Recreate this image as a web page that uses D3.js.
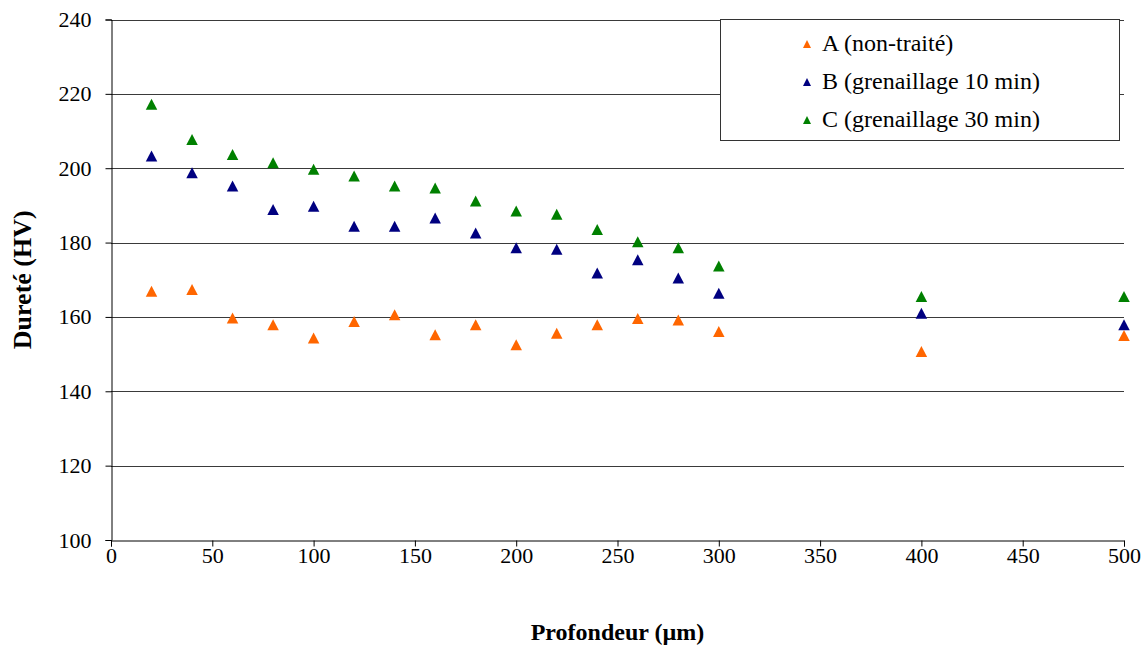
<!DOCTYPE html>
<html><head><meta charset="utf-8">
<script src="https://cdn.jsdelivr.net/npm/d3@7"></script>
<style>body{margin:0;background:#fff}svg{display:block}</style>
</head><body>
<script>
const depth = [20,40,60,80,100,120,140,160,180,200,220,240,260,280,300,400,500];
const seriesA = [166.9,167.4,159.7,157.9,154.3,158.8,160.6,155.2,157.9,152.5,155.6,157.9,159.6,159.2,156.1,150.7,155.0];
const seriesB = [203.3,198.8,195.2,188.9,189.8,184.4,184.4,186.6,182.6,178.6,178.2,171.8,175.4,170.5,166.4,161.0,157.9];
const seriesC = [217.2,207.7,203.7,201.5,199.7,197.9,195.2,194.7,191.2,188.5,187.6,183.5,180.2,178.6,173.7,165.5,165.5];
const seriesNames = ["A (non-traité)","B (grenaillage 10 min)","C (grenaillage 30 min)"];
const seriesColors = ["#FF6600","#000080","#008000"];
const xTicks = [0,50,100,150,200,250,300,350,400,450,500];
const yTicks = [100,120,140,160,180,200,220,240];

const W=1148,H=646;
const L=111,R=1124,T=19.5,B=540;
const svg=d3.select("body").append("svg").attr("width",W).attr("height",H);
const x=d3.scaleLinear().domain([0,500]).range([L,R]);
const y=d3.scaleLinear().domain([100,240]).range([B,T]);
const font='"Liberation Serif","Times New Roman","DejaVu Serif",serif';

svg.append("g").selectAll("line").data(yTicks.filter(v=>v>100)).join("line")
 .attr("x1",L).attr("x2",R).attr("y1",d=>Math.round(y(d))+0.5).attr("y2",d=>Math.round(y(d))+0.5)
 .attr("stroke","#3a3a3a").attr("stroke-width",1);

const xAxis=svg.append("g").attr("transform",`translate(0,${B+0.5})`)
 .call(d3.axisBottom(x).tickValues(xTicks).tickSize(6));
const yAxis=svg.append("g").attr("transform",`translate(${L+0.5},0)`)
 .call(d3.axisLeft(y).tickValues(yTicks).tickSize(6).tickPadding(14));
[xAxis,yAxis].forEach(g=>{
 g.attr("font-family",null).attr("font-size",null);
 g.select(".domain").attr("stroke","#000");
 g.selectAll(".tick line").attr("stroke","#000");
 g.selectAll("text").style("font-family",font).style("font-size","22px").attr("fill","#000");
});
xAxis.selectAll("text").attr("y",15).attr("dy","0.35em");

const tri=(w,h)=>`M0,${-h/2}L${w/2},${h/2}L${-w/2},${h/2}Z`;
const all=[seriesA,seriesB,seriesC];
all.forEach((s,i)=>{
 svg.append("g").selectAll("path").data(depth.map((d,j)=>[d,s[j]])).join("path")
  .attr("d",tri(11.5,11)).attr("transform",d=>`translate(${x(d[0])},${y(d[1])})`)
  .attr("fill",seriesColors[i]);
});

const lg=svg.append("g");
lg.append("rect").attr("x",720.5).attr("y",19.5).attr("width",399).attr("height",121)
 .attr("fill","#fff").attr("stroke","#333").attr("stroke-width",1);
const rows=[43,81,119];
seriesNames.forEach((n,i)=>{
 lg.append("path").attr("d",tri(8,8)).attr("transform",`translate(807,${rows[i]+1})`).attr("fill",seriesColors[i]);
 lg.append("text").attr("x",822).attr("y",rows[i]).attr("dy","0.35em")
  .style("font-family",font).style("font-size","24px").text(n);
});

svg.append("text").attr("x",(L+R)/2).attr("y",632).attr("dy","0.35em").attr("text-anchor","middle")
 .style("font-family",font).style("font-size","24px").attr("font-weight","bold").text("Profondeur (µm)");
svg.append("text").attr("transform",`translate(22,${(T+B)/2}) rotate(-90)`).attr("dy","0.35em").attr("text-anchor","middle")
 .style("font-family",font).style("font-size","26px").attr("font-weight","bold").text("Dureté (HV)");
</script>
</body></html>
